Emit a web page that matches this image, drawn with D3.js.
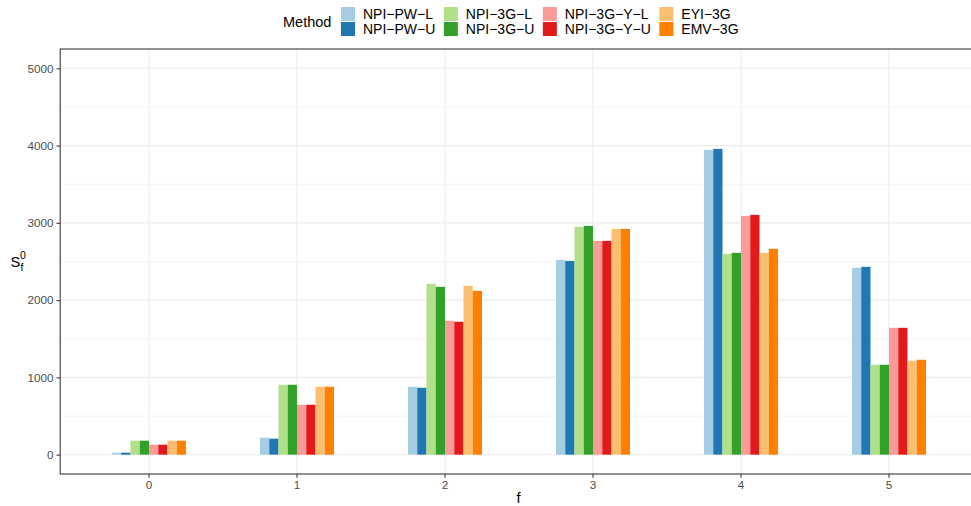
<!DOCTYPE html>
<html>
<head>
<meta charset="utf-8">
<script src="https://cdn.jsdelivr.net/npm/d3@7"></script>
<style>
  body { margin: 0; background: #fff; }
  svg { display: block; font-family: "Liberation Sans", Arial, sans-serif; }
</style>
</head>
<body>
<svg id="chart"></svg>
<script>
(() => {
  const W = 971, H = 506;

  // data
  const groups = ["0", "1", "2", "3", "4", "5"];
  const methods = ["NPI−PW−L", "NPI−PW−U", "NPI−3G−L", "NPI−3G−U",
    "NPI−3G−Y−L", "NPI−3G−Y−U", "EYI−3G", "EMV−3G"];
  const colors = ["#a6cee3", "#1f78b4", "#b2df8a", "#33a02c", "#fb9a99", "#e31a1c", "#fdbf6f", "#ff7f00"];
  // one row per method, one value per f group
  const values = [
    [26, 220, 879, 2521, 3944, 2418],   // NPI-PW-L
    [26, 207, 866, 2508, 3957, 2431],   // NPI-PW-U
    [181, 905, 2211, 2948, 2599, 1164], // NPI-3G-L
    [181, 905, 2172, 2961, 2612, 1164], // NPI-3G-U
    [129, 646, 1733, 2767, 3090, 1642], // NPI-3G-Y-L
    [129, 646, 1720, 2767, 3103, 1642], // NPI-3G-Y-U
    [181, 879, 2185, 2922, 2612, 1215], // EYI-3G
    [181, 879, 2120, 2922, 2664, 1228]  // EMV-3G
  ];
  const yTicks = [0, 1000, 2000, 3000, 4000, 5000];
  const yMinor = [500, 1500, 2500, 3500, 4500];

  const P = { l: 60.2, r: 977.8, t: 49, b: 474 };

  const svg = d3.select("#chart").attr("width", W).attr("height", H);

  // scales
  const x = d3.scaleBand().domain(groups).range([P.l, P.r]).paddingInner(0.5).paddingOuter(0.35);
  const xm = d3.scaleBand().domain(methods).range([0, x.bandwidth()]);
  const y = d3.scaleLinear().domain([-250, 5250]).range([P.b, P.t]);
  const col = d3.scaleOrdinal().domain(methods).range(colors);
  const xc = g => x(g) + x.bandwidth() / 2;

  // grid
  const grid = svg.append("g");
  grid.selectAll(".minor").data(yMinor).join("line")
    .attr("x1", P.l).attr("x2", P.r).attr("y1", d => y(d)).attr("y2", d => y(d))
    .attr("stroke", "#ebebeb").attr("stroke-width", 0.53);
  grid.selectAll(".majY").data(yTicks).join("line")
    .attr("x1", P.l).attr("x2", P.r).attr("y1", d => y(d)).attr("y2", d => y(d))
    .attr("stroke", "#ebebeb").attr("stroke-width", 1.07);
  grid.selectAll(".majX").data(groups).join("line")
    .attr("x1", d => xc(d)).attr("x2", d => xc(d)).attr("y1", P.t).attr("y2", P.b)
    .attr("stroke", "#ebebeb").attr("stroke-width", 1.07);

  // bars
  const bars = [];
  methods.forEach((m, i) => groups.forEach((g, j) => bars.push({ m, g, v: values[i][j] })));
  svg.append("g").selectAll("rect").data(bars).join("rect")
    .attr("x", d => x(d.g) + xm(d.m))
    .attr("width", xm.bandwidth())
    .attr("y", d => y(d.v))
    .attr("height", d => y(0) - y(d.v))
    .attr("fill", d => col(d.m));

  // panel border
  svg.append("rect")
    .attr("x", P.l).attr("y", P.t).attr("width", P.r - P.l).attr("height", P.b - P.t)
    .attr("fill", "none").attr("stroke", "#333").attr("stroke-width", 1.07);

  // axes
  const yAx = svg.append("g").attr("transform", `translate(${P.l},0)`)
    .call(d3.axisLeft(y).tickValues(yTicks).tickSize(3.7).tickPadding(3).tickFormat(d3.format("d")));
  const xAx = svg.append("g").attr("transform", `translate(0,${P.b})`)
    .call(d3.axisBottom(x).tickSize(3.7).tickPadding(3));
  [yAx, xAx].forEach(a => {
    a.select(".domain").remove();
    a.selectAll(".tick line").attr("stroke", "#333").attr("stroke-width", 1.07);
    a.selectAll(".tick text").attr("fill", "#4d4d4d").style("font-size", "11.7px")
      .style("font-family", "'Liberation Sans', Arial, sans-serif");
  });
  xAx.selectAll(".tick").attr("transform", d => `translate(${xc(d)},0)`);

  // axis titles
  svg.append("text").attr("x", 518.5).attr("y", 503).attr("text-anchor", "middle")
    .style("font-size", "14.67px").attr("fill", "#000").text("f");
  svg.append("text").attr("x", 10.5).attr("y", 267).style("font-size", "14.67px").text("S");
  svg.append("text").attr("x", 20).attr("y", 259).style("font-size", "10.5px").text("0");
  svg.append("text").attr("x", 20.5).attr("y", 271).style("font-size", "10.5px").text("f");

  // legend
  const lg = svg.append("g");
  lg.append("text").attr("x", 283).attr("y", 22).attr("dy", "0.35em")
    .style("font-size", "14.5px").text("Method");
  let kx = 341;
  for (let c = 0; c < 4; c++) {
    let maxW = 0;
    [0, 1].forEach(r => {
      const m = methods[c * 2 + r];
      const ky = 7 + r * 15;
      lg.append("rect").attr("x", kx).attr("y", ky).attr("width", 14).attr("height", 14).attr("fill", col(m));
      const t = lg.append("text").attr("x", kx + 22).attr("y", ky + 7).attr("dy", "0.35em")
        .style("font-size", "14px").text(m);
      maxW = Math.max(maxW, t.node().getComputedTextLength());
    });
    kx = kx + 22 + maxW + 8.5;
  }
})();
</script>
</body>
</html>
